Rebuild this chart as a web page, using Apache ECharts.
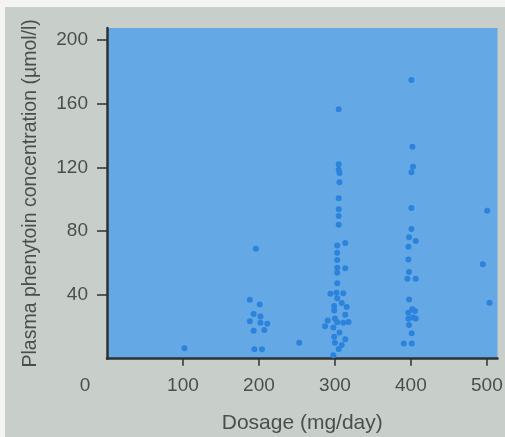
<!DOCTYPE html>
<html>
<head>
<meta charset="utf-8">
<script src="https://cdn.jsdelivr.net/npm/echarts@6/dist/echarts.min.js"></script>
<style>
html,body{margin:0;padding:0;background:#f4f5f3;width:505px;height:437px;overflow:hidden;}
#chart{position:absolute;left:5px;top:7px;width:500px;height:430px;background:#c8cfcb;}
</style>
</head>
<body>
<div id="chart"></div>
<script>
// Dosage (mg/day) of each patient
const dosage = [
  102, 253,
  196, 188, 201, 193, 202, 188, 202, 211, 193, 207, 194, 204,
  305, 305, 305, 306, 306, 305, 305, 305, 305, 303, 313.6, 303, 303, 303, 313.6, 303, 303,
  294, 302, 311, 303, 309, 299, 315.5, 299, 313.6, 300, 290.5, 303, 311, 318, 287, 298,
  306, 299, 313.6, 300, 309, 305, 298,
  400.7, 402, 402.8, 400.7, 400.7, 400.7, 397.6, 406.4, 396.7, 396.7, 397.6, 395.4, 406.4,
  397.6, 401.9, 405.4, 396.7, 402.8, 396.7, 406.4, 397.6, 401.1, 390.6, 401.1,
  500.4, 494.7, 503.5
];
// Plasma phenytoin concentration (µmol/l) of each patient
const concentration = [
  6.5, 10,
  69, 37, 34, 28, 26.5, 23.5, 22.5, 22, 17.5, 18, 6, 6,
  156.5, 122, 118.5, 116.5, 110.7, 100.6, 93.7, 89.5, 84, 71.1, 72.6, 66.5, 62, 57.1, 56.7, 54, 47.3,
  40.8, 41.4, 41, 38, 35, 33, 32.5, 30.3, 27.5, 25.2, 24, 22.8, 22.5, 23, 20.3, 19.6,
  16.4, 13.8, 12.2, 10, 8.6, 6.1, 2.2,
  174.9, 133, 120.5, 117, 94.6, 81.4, 76.2, 73.8, 70.3, 62.3, 54.4, 50.2, 50.2,
  37.2, 31, 30, 28.9, 25.9, 25.1, 25.3, 21.1, 15.9, 9.6, 9.6,
  92.9, 59.2, 35.1
];
const xTickValues = [100, 200, 300, 400, 500];
const xLabelValues = [0, 100, 200, 300, 400, 500];
const yTickValues = [40, 80, 120, 160, 200];
const xTitle = 'Dosage (mg/day)';
const yTitle = 'Plasma phenytoin concentration (µmol/l)';

const points = dosage.map((d, i) => [d, concentration[i]]);
const textColor = '#4a4f4d';
const axisColor = '#2e3331';
const font = 'Liberation Sans, Arial, sans-serif';

const chart = echarts.init(document.getElementById('chart'));
chart.setOption({
  animation: false,
  grid: {
    left: 102, right: 7.5, top: 21, bottom: 78.3,
    outerBoundsMode: 'none', containLabel: false,
    show: true, backgroundColor: '#64a8e6', borderWidth: 0
  },
  xAxis: {
    type: 'value', min: 0, max: 514, interval: 100,
    name: xTitle, nameLocation: 'middle', nameGap: 54,
    nameTextStyle: {color: textColor, fontSize: 21, fontFamily: font},
    axisLine: {show: true, onZero: false, lineStyle: {color: axisColor, width: 2.5}},
    axisTick: {show: true, length: 7, customValues: xTickValues, lineStyle: {color: axisColor, width: 1.5}},
    axisLabel: {
      customValues: xLabelValues, margin: 18, color: textColor, fontSize: 19, fontFamily: font,
      formatter: v => v === 0 ? '{o|0}' : String(v),
      rich: {o: {padding: [0, 44, 0, 0], color: textColor, fontSize: 19, fontFamily: font}}
    },
    splitLine: {show: false}
  },
  yAxis: {
    type: 'value', min: 0, max: 207.5, interval: 40,
    name: yTitle, nameLocation: 'middle', nameGap: 66,
    nameTextStyle: {color: textColor, fontSize: 19.5, fontFamily: font},
    axisLine: {show: true, onZero: false, lineStyle: {color: axisColor, width: 2.5}},
    axisTick: {show: true, length: 10, customValues: yTickValues, lineStyle: {color: axisColor, width: 1.5}},
    axisLabel: {customValues: yTickValues, margin: 19, color: textColor, fontSize: 19, fontFamily: font},
    splitLine: {show: false}
  },
  series: [{
    type: 'scatter',
    data: points,
    symbol: 'circle',
    symbolSize: 6,
    itemStyle: {color: '#2c83db', opacity: 1}
  }]
});
</script>
</body>
</html>
